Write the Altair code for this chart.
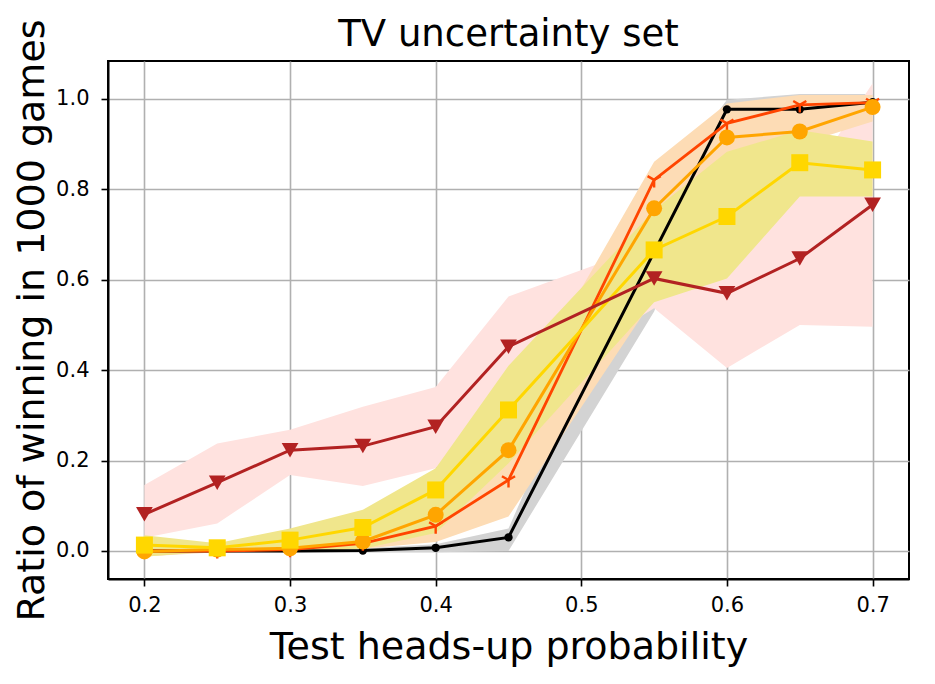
import altair as alt
import pandas as pd

TITLE = "TV uncertainty set"

# x positions (test heads-up probability)
x_all = [0.2, 0.25, 0.3, 0.35, 0.4, 0.45, 0.55, 0.6, 0.65, 0.7]
x_black = [0.2, 0.25, 0.3, 0.35, 0.4, 0.45, 0.6, 0.65, 0.7]

# series values
black_y = [0.0, 0.0, 0.0, 0.001, 0.007, 0.03, 0.977, 0.977, 0.993]
orangered_y = [0.0, 0.0, 0.003, 0.017, 0.055, 0.157, 0.821, 0.946, 0.987, 0.992]
orange_y = [-0.001, 0.003, 0.006, 0.021, 0.08, 0.223, 0.758, 0.915, 0.928, 0.982]
gold_y = [0.013, 0.007, 0.024, 0.052, 0.135, 0.312, 0.666, 0.740, 0.859, 0.843]
firebrick_y = [0.081, 0.151, 0.223, 0.232, 0.275, 0.452, 0.603, 0.570, 0.647, 0.766]

# shaded bands (lower, upper)
gray_lo = [-0.003, -0.003, -0.003, -0.003, -0.003, 0.0, 0.53, 0.95, 0.95, 0.97]
gray_hi = [0.004, 0.004, 0.004, 0.006, 0.015, 0.05, 0.78, 0.998, 1.011, 1.011]
peach_lo = [-0.012, -0.003, -0.002, 0.005, 0.02, 0.076, 0.56, 0.88, 0.90, 0.95]
peach_hi = [0.012, 0.01, 0.015, 0.04, 0.11, 0.30, 0.861, 0.99, 1.009, 1.009]
khaki_lo = [-0.013, 0.0, 0.0, 0.005, 0.04, 0.194, 0.55, 0.603, 0.784, 0.784]
khaki_hi = [0.035, 0.017, 0.05, 0.091, 0.183, 0.41, 0.754, 0.883, 0.931, 0.906]
pink_lo = [0.029, 0.061, 0.168, 0.144, 0.183, 0.34, 0.537, 0.405, 0.50, 0.496]
pink_hi = [0.146, 0.238, 0.268, 0.319, 0.363, 0.563, 0.68, 0.73, 0.79, 1.035]

x_ticks = [0.2, 0.3, 0.4, 0.5, 0.6, 0.7]
y_ticks = [0.0, 0.2, 0.4, 0.6, 0.8, 1.0]

X_DOM = [0.175, 0.725]
Y_DOM = [-0.062, 1.084]

FONT = "DejaVu Sans"
W, H = 801, 518

xs = alt.Scale(domain=X_DOM, nice=False, zero=False)
ys = alt.Scale(domain=Y_DOM, nice=False, zero=False)

x_axis = alt.Axis(values=x_ticks, format=".1f", title="Test heads-up probability",
                  titleFontSize=38, titleFont=FONT, titleFontWeight="normal",
                  titleBaseline="alphabetic", titleY=79, titleColor="black",
                  labelFontSize=21, labelFont=FONT, labelColor="black", labelPadding=8,
                  tickSize=7, tickColor="black", tickWidth=1.6,
                  domainColor="black", domainWidth=2,
                  grid=True, gridColor="#b0b0b0", gridWidth=1.6, labelFlush=False)
y_axis = alt.Axis(values=y_ticks, format=".1f", title="Ratio of winning in 1000 games",
                  titleFontSize=38, titleFont=FONT, titleFontWeight="normal",
                  titleBaseline="alphabetic", titleX=-65, titleY=259, titleAngle=270,
                  titleAlign="center", titleColor="black",
                  labelFontSize=21, labelFont=FONT, labelColor="black", labelPadding=12,
                  tickSize=7, tickColor="black", tickWidth=1.6,
                  domainColor="black", domainWidth=2,
                  grid=True, gridColor="#b0b0b0", gridWidth=1.6, labelFlush=False)


def band_df(lo, hi):
    return pd.DataFrame({"x": x_all, "lo": lo, "hi": hi})


def band(lo, hi, color):
    enc = dict(
        x=alt.X("x:Q", scale=xs, axis=x_axis),
        y=alt.Y("lo:Q", scale=ys, axis=y_axis),
        y2="hi:Q",
    )
    return alt.Chart(band_df(lo, hi)).mark_area(color=color, opacity=1).encode(**enc)


def series(xv, yv, color, shape, size, filled=True, sw=3):
    df = pd.DataFrame({"x": xv, "y": yv})
    base = alt.Chart(df).encode(
        x=alt.X("x:Q", scale=xs, axis=x_axis),
        y=alt.Y("y:Q", scale=ys, axis=y_axis),
    )
    line = base.mark_line(color=color, strokeWidth=sw)
    if filled:
        pts = base.mark_point(shape=shape, size=size, filled=True, color=color, opacity=1)
    else:
        pts = base.mark_point(shape=shape, size=size, filled=False, color=color,
                              strokeWidth=2.4, opacity=1)
    return line + pts


TRI_DOWN = "M0,0L0,1M0,0L-0.866,-0.5M0,0L0.866,-0.5"

title_layer = alt.Chart(pd.DataFrame({"t": [TITLE]})).mark_text(
    font=FONT, fontSize=37, color="black", align="center", baseline="alphabetic"
).encode(text="t:N", x=alt.value(W / 2), y=alt.value(-15))

chart = alt.layer(
    band(gray_lo, gray_hi, "#d3d3d3"),
    band(pink_lo, pink_hi, "#ffe2df"),
    band(peach_lo, peach_hi, "#fddcb5"),
    band(khaki_lo, khaki_hi, "#f0e68c"),
    series(x_black, black_y, "black", "circle", 70),
    series(x_all, orangered_y, "#ff4500", TRI_DOWN, 230, filled=False, sw=2.8),
    series(x_all, orange_y, "#ffa500", "circle", 256),
    series(x_all, gold_y, "#ffd700", "square", 289),
    series(x_all, firebrick_y, "#b22222", "triangle-down", 280),
    title_layer,
).properties(
    width=W,
    height=H,
    background="white",
    autosize=alt.AutoSizeParams(type="none"),
    padding={"left": 100, "top": 53, "right": 18, "bottom": 97},
).configure_view(
    stroke="black", strokeWidth=2, strokeOpacity=1
)

chart.save("out.html", embed_options={"renderer": "svg", "actions": False})
